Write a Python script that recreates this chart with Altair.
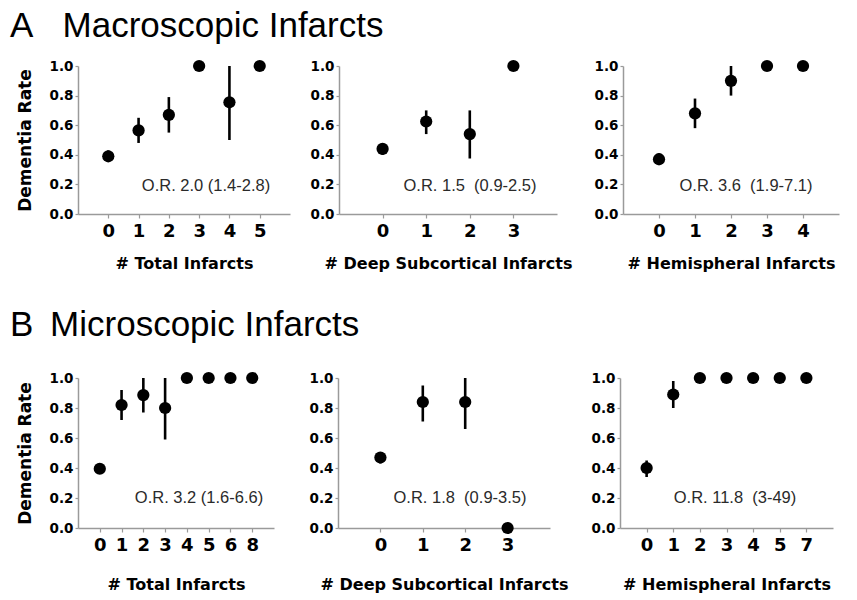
import altair as alt
import pandas as pd

# ---------------- data ----------------
# A: Macroscopic infarcts
a1_cat = ["0", "1", "2", "3", "4", "5"]
a1_rate = [0.39, 0.565, 0.67, 1.0, 0.755, 1.0]
a1_lo = [0.36, 0.48, 0.55, 1.0, 0.50, 1.0]
a1_hi = [0.43, 0.65, 0.79, 1.0, 1.0, 1.0]

a2_cat = ["0", "1", "2", "3"]
a2_rate = [0.44, 0.625, 0.54, 1.0]
a2_lo = [0.40, 0.54, 0.375, 1.0]
a2_hi = [0.47, 0.70, 0.70, 1.0]

a3_cat = ["0", "1", "2", "3", "4"]
a3_rate = [0.37, 0.68, 0.90, 1.0, 1.0]
a3_lo = [0.33, 0.58, 0.80, 1.0, 1.0]
a3_hi = [0.41, 0.78, 1.0, 1.0, 1.0]

# B: Microscopic infarcts
b1_cat = ["0", "1", "2", "3", "4", "5", "6", "8"]
b1_rate = [0.395, 0.82, 0.886, 0.80, 1.0, 1.0, 1.0, 1.0]
b1_lo = [0.36, 0.72, 0.77, 0.59, 1.0, 1.0, 1.0, 1.0]
b1_hi = [0.43, 0.92, 1.0, 1.0, 1.0, 1.0, 1.0, 1.0]

b2_cat = ["0", "1", "2", "3"]
b2_rate = [0.47, 0.84, 0.84, 0.0]
b2_lo = [0.43, 0.71, 0.66, 0.0]
b2_hi = [0.50, 0.95, 1.0, 0.0]

b3_cat = ["0", "1", "2", "3", "4", "5", "7"]
b3_rate = [0.40, 0.89, 1.0, 1.0, 1.0, 1.0, 1.0]
b3_lo = [0.34, 0.80, 1.0, 1.0, 1.0, 1.0, 1.0]
b3_hi = [0.45, 0.98, 1.0, 1.0, 1.0, 1.0, 1.0]

y_ticks = [0.0, 0.2, 0.4, 0.6, 0.8, 1.0]

notes = {
    "a1": "O.R. 2.0 (1.4-2.8)",
    "a2": "O.R. 1.5\u00a0 (0.9-2.5)",
    "a3": "O.R. 3.6\u00a0 (1.9-7.1)",
    "b1": "O.R. 3.2 (1.6-6.6)",
    "b2": "O.R. 1.8\u00a0 (0.9-3.5)",
    "b3": "O.R. 11.8\u00a0 (3-49)",
}
row_titles = {
    "a": "A\u00a0\u00a0\u00a0Macroscopic Infarcts",
    "b": "B\u00a0\u2009Microscopic Infarcts",
}

AXIS_GRAY = "#9a9a9a"
BOLD_FONT = "DejaVu Sans"
Y_LABEL_SIZE = 13.5


def panel(cats, rate, lo, hi, xtitle, note, note_x, note_y, w, h,
          ytitle=None, row_title=None, title_x=0, title_y=0, x_title_pad=4):
    df = pd.DataFrame({"cat": cats, "rate": rate, "lo": lo, "hi": hi})
    xax = alt.Axis(
        title=xtitle, labelAngle=0, labelFont=BOLD_FONT, labelFontWeight="bold",
        labelFontSize=18, labelColor="black", labelPadding=4, tickSize=4,
        tickColor=AXIS_GRAY, tickWidth=1.2, domainColor=AXIS_GRAY, domainWidth=1.5,
        titleFont=BOLD_FONT, titleFontWeight="bold", titleFontSize=16,
        titleColor="black", titlePadding=x_title_pad, grid=False, labelOverlap=False,
    )
    yax_args = dict(
        values=y_ticks, format=".1f", labelFont=BOLD_FONT,
        labelFontWeight="bold", labelFontSize=Y_LABEL_SIZE, labelColor="black",
        labelPadding=2, tickSize=3, tickColor=AXIS_GRAY, tickWidth=1.2,
        domainColor=AXIS_GRAY, domainWidth=1.5, grid=False, labelFlush=False,
        labelOverlap=False,
        titleFont=BOLD_FONT, titleFontWeight="bold", titleFontSize=17,
        titleColor="black", titlePadding=15,
    )
    yax_args["title"] = ytitle
    yax = alt.Axis(**yax_args)
    x = alt.X("cat:N", sort=cats, scale=alt.Scale(type="point", padding=1), axis=xax)
    yscale = alt.Scale(domain=[0, 1], nice=False)

    base = alt.Chart(df)
    rules = base.mark_rule(color="black", strokeWidth=2.6).encode(
        x=x,
        y=alt.Y("lo:Q", scale=yscale, axis=yax),
        y2="hi:Q",
    )
    points = base.mark_circle(color="black", opacity=1, size=150).encode(
        x=x,
        y=alt.Y("rate:Q", scale=yscale, axis=yax),
    )
    text = alt.Chart(pd.DataFrame({"t": [note]})).mark_text(
        font="Liberation Sans", fontSize=16.5, color="#2a2a2a", align="center",
        baseline="middle",
    ).encode(
        x=alt.value(note_x),
        y=alt.YDatum(note_y, scale=yscale, axis=yax),
        text="t:N",
    )

    layers = [rules, points, text]
    if row_title is not None:
        ttl = alt.Chart(pd.DataFrame({"t": [row_title]})).mark_text(
            font="Liberation Sans", fontSize=35, color="black", align="left",
            baseline="alphabetic",
        ).encode(x=alt.value(title_x), y=alt.value(title_y), text="t:N")
        layers.append(ttl)

    return alt.layer(*layers).properties(width=w, height=h)


A1 = panel(a1_cat, a1_rate, a1_lo, a1_hi, "# Total Infarcts", notes["a1"], 128, 0.19,
           212, 148, ytitle="Dementia Rate", row_title=row_titles["a"],
           title_x=-68, title_y=-29, x_title_pad=15)
A2 = panel(a2_cat, a2_rate, a2_lo, a2_hi, "# Deep Subcortical Infarcts", notes["a2"], 131, 0.19,
           218, 148, x_title_pad=15)
A3 = panel(a3_cat, a3_rate, a3_lo, a3_hi, "# Hemispheral Infarcts", notes["a3"], 123, 0.19,
           216, 148, x_title_pad=15)

B1 = panel(b1_cat, b1_rate, b1_lo, b1_hi, "# Total Infarcts", notes["b1"], 121, 0.2,
           196, 150, ytitle="Dementia Rate", row_title=row_titles["b"],
           title_x=-68, title_y=-42, x_title_pad=22)
B2 = panel(b2_cat, b2_rate, b2_lo, b2_hi, "# Deep Subcortical Infarcts", notes["b2"], 122, 0.2,
           212, 150, x_title_pad=22)
B3 = panel(b3_cat, b3_rate, b3_lo, b3_hi, "# Hemispheral Infarcts", notes["b3"], 115, 0.2,
           213, 150, x_title_pad=22)

row_a = alt.hconcat(A1, alt.hconcat(A2, A3, spacing=66, bounds="flush"),
                    spacing=49, bounds="flush")
row_b = alt.hconcat(B1, alt.hconcat(B2, B3, spacing=70, bounds="flush"),
                    spacing=64, bounds="flush")

# nested concat groups have no size of their own in "flush" mode, so the
# vertical spacing is measured from the top of row A to the top of row B
chart = alt.vconcat(row_a, row_b, spacing=312, bounds="flush").properties(
    padding={"left": 2, "top": 1, "right": 2, "bottom": 2},
    background="white",
).configure_view(strokeWidth=0).configure_axis(grid=False).configure_axisY(
    labelFontSize=Y_LABEL_SIZE, labelFont=BOLD_FONT, labelFontWeight="bold"
)

chart.save("out.html", embed_options={"renderer": "svg", "actions": False})
